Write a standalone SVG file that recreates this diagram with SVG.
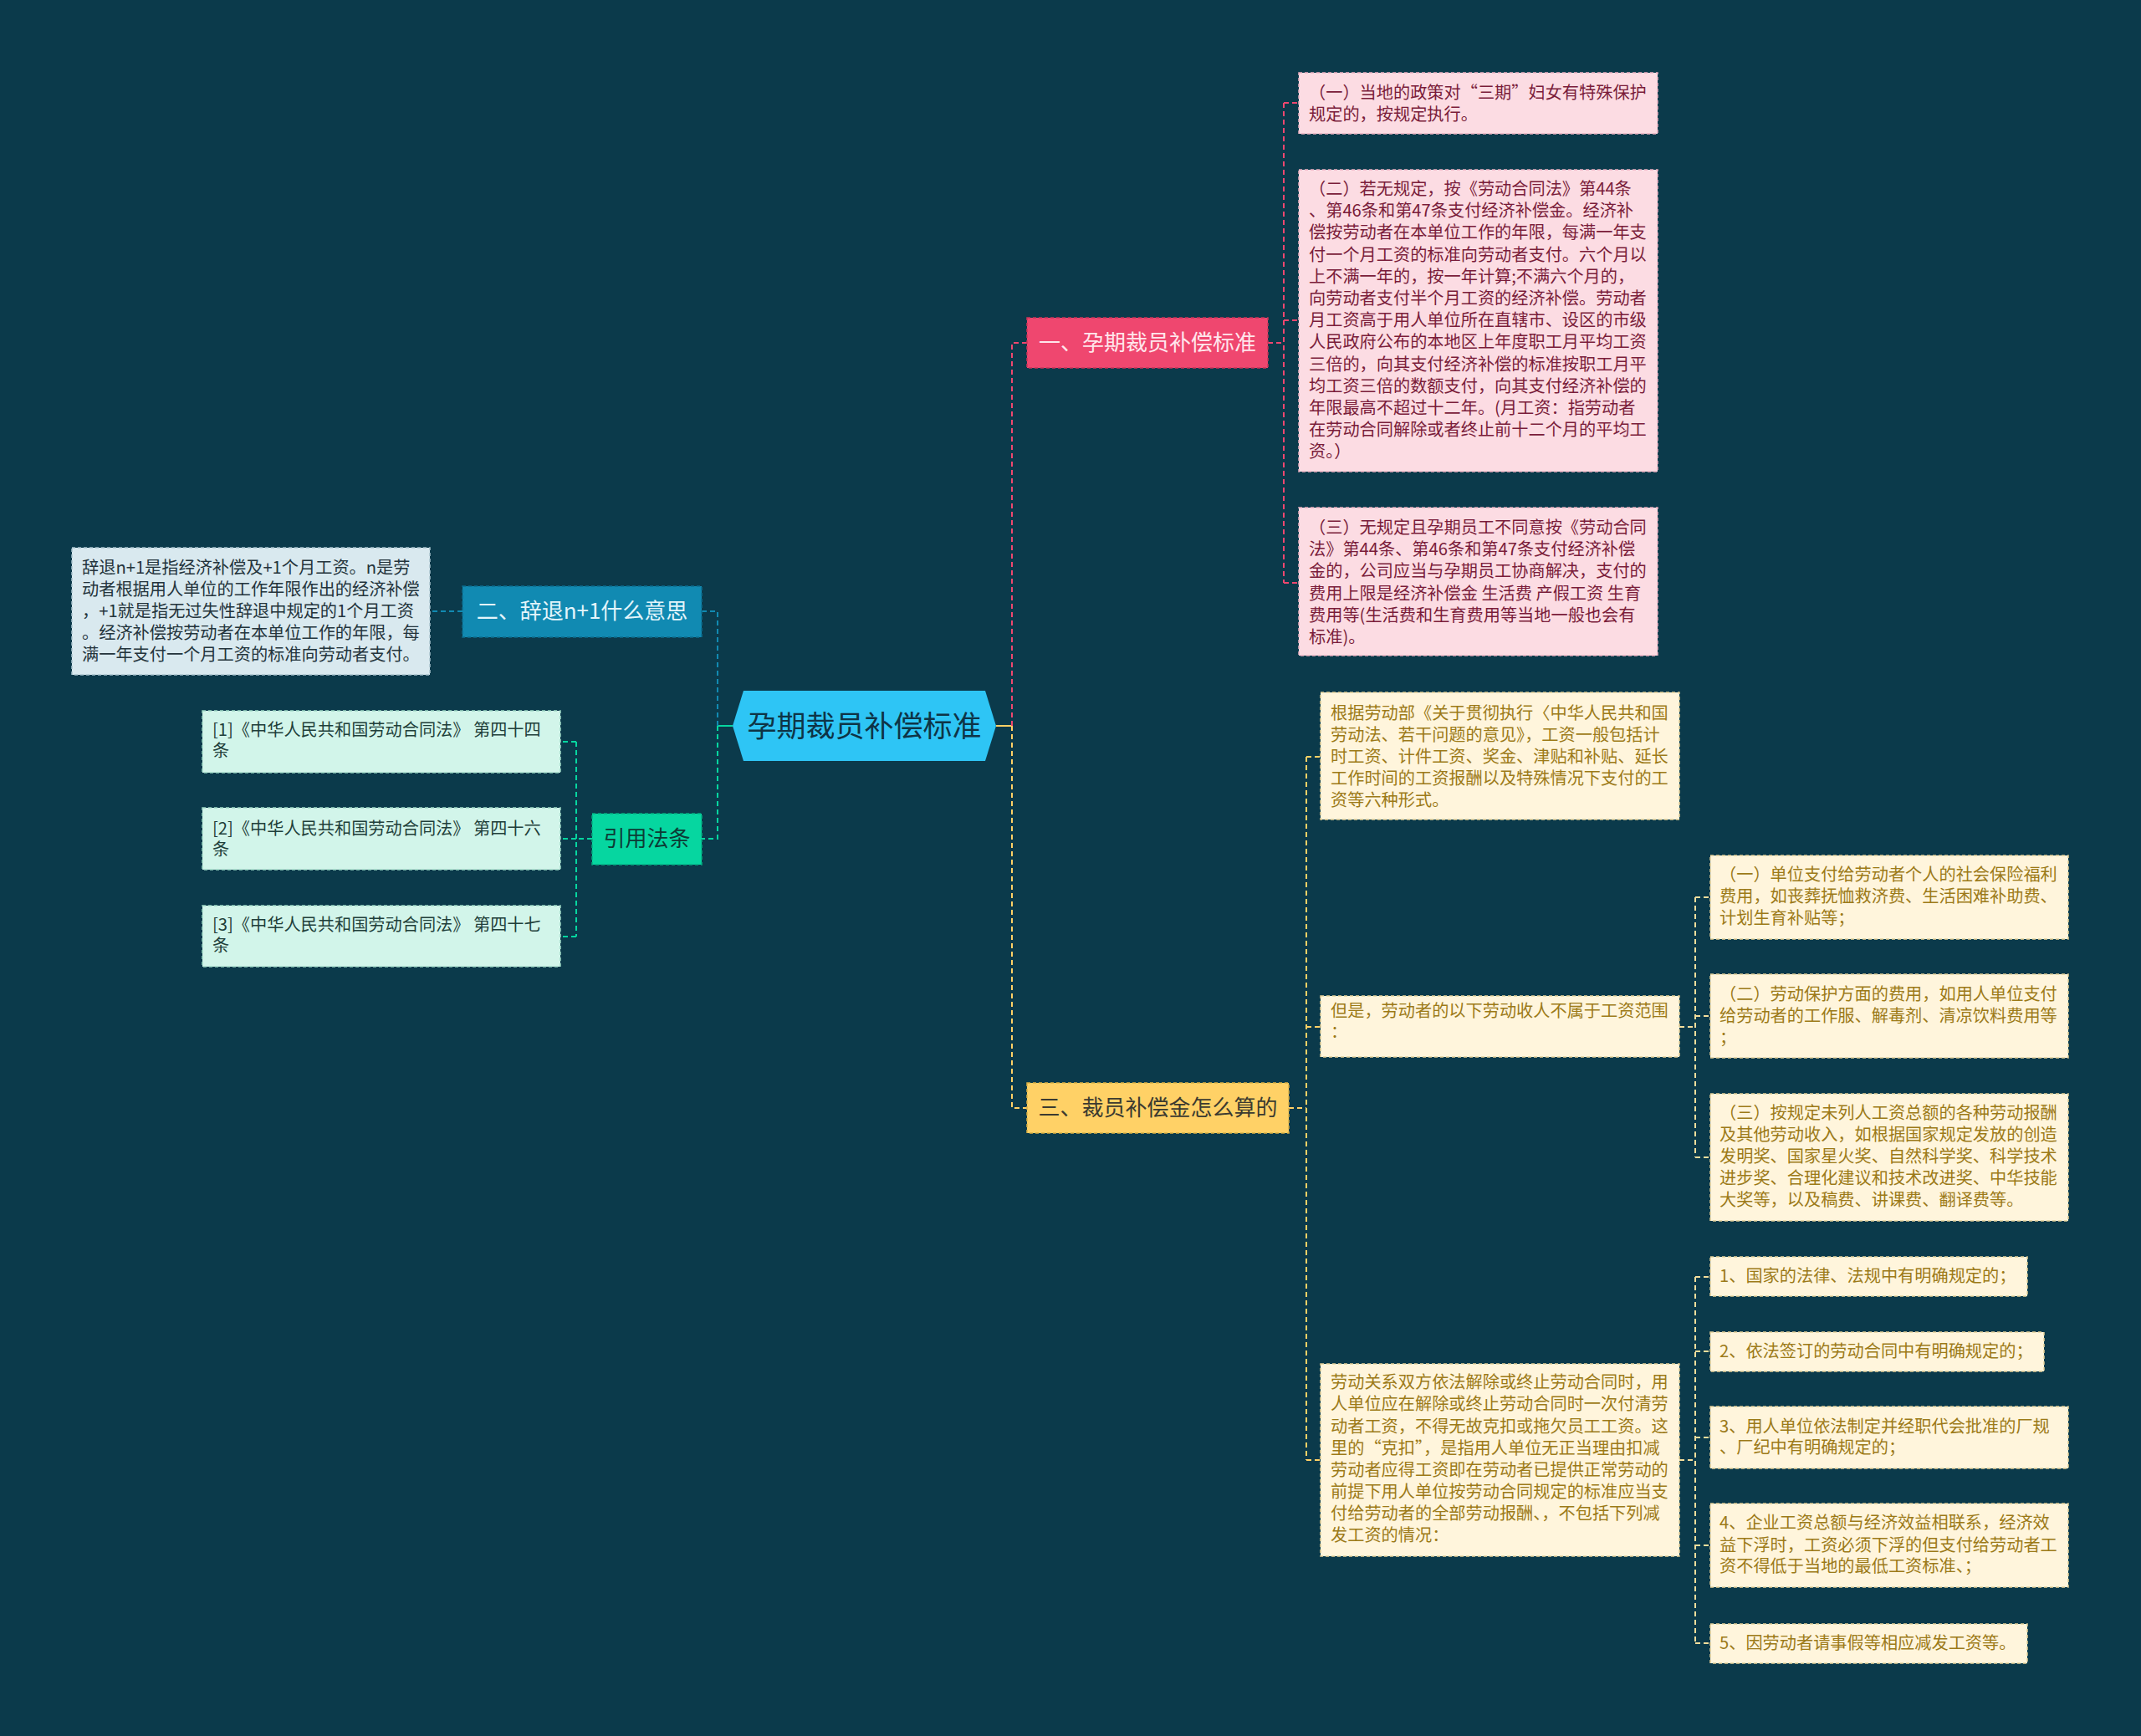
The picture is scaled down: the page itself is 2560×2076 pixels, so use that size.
<svg xmlns="http://www.w3.org/2000/svg" width="2560" height="2076" viewBox="0 0 2560 2076">
<style>
text{font-family:"Noto Sans CJK SC","Noto Sans",sans-serif;}
.t20{font-size:20.2px;}
.l1{font-size:26px;text-anchor:middle;}
.con{fill:none;stroke-width:2;stroke-dasharray:6 4;}
.box{stroke-width:1.5;stroke-dasharray:4 3;}
.pk{fill:#FCDCE3;stroke:#E9AFC0;}
.pkt{fill:#7A1C3A;}
.yl{fill:#FFF5DC;stroke:#E3CF98;}
.ylt{fill:#9C7A18;}
</style>
<rect x="0" y="0" width="2560" height="2076" fill="#0B3A4B"/>
<g id="connectors">
  <path d="M1191 868 H1210" stroke="#FFD166" stroke-width="2" fill="none"/>
  <path class="con" stroke="#EF476F" d="M1210 868 V410 H1228"/>
  <path class="con" stroke="#FFD166" d="M1210 868 V1325 H1228"/>
  <path d="M876 868 H858" stroke="#06D6A0" stroke-width="2" fill="none"/>
  <path class="con" stroke="#118AB2" d="M858 868 V731 H839"/>
  <path class="con" stroke="#06D6A0" d="M858 868 V1003 H839"/>
  <path class="con" stroke="#118AB2" d="M553 731 H514"/>
  <path class="con" stroke="#06D6A0" d="M708 1003 H689 M689 887 V1120 M689 887 H670 M689 1003 H670 M689 1120 H670"/>
  <path class="con" stroke="#EF476F" d="M1516 410 H1535 M1535 123 V697 M1535 123 H1553 M1535 383 H1553 M1535 697 H1553"/>
  <path class="con" stroke="#FFD166" d="M1541 1325 H1562 M1562 905 V1746 M1562 905 H1579 M1562 1228 H1579 M1562 1746 H1579"/>
  <path class="con" stroke="#F3DE9C" d="M2008 1228 H2027 M2027 1073 V1384 M2027 1073 H2045 M2027 1215 H2045 M2027 1384 H2045"/>
  <path class="con" stroke="#F3DE9C" d="M2008 1746 H2027 M2027 1527 V1965 M2027 1527 H2045 M2027 1616 H2045 M2027 1719 H2045 M2027 1848 H2045 M2027 1965 H2045"/>
</g>
<g id="root">
  <polygon points="876,868 889,826 1178,826 1191,868 1178,910 889,910" fill="#2EC5F5"/>
  <text x="1033.5" y="881" style="font-size:35px;text-anchor:middle" fill="#0E3446">孕期裁员补偿标准</text>
</g>
<g id="n1">
  <rect class="box" x="1228" y="380" width="288" height="60" fill="#EF476F" stroke="#C9355A"/>
  <text class="l1" x="1372" y="419" fill="#FFE6EC">一、孕期裁员补偿标准</text>
</g>
<g id="n2">
  <rect class="box" x="553" y="701" width="286" height="61" fill="#118AB2" stroke="#0C6E8E"/>
  <text class="l1" x="696" y="740" fill="#E3F5FB">二、辞退n+1什么意思</text>
</g>
<g id="n3">
  <rect class="box" x="708" y="973" width="131" height="61" fill="#06D6A0" stroke="#05AE82"/>
  <text class="l1" x="773.5" y="1012" fill="#0D3B35">引用法条</text>
</g>
<g id="n4">
  <rect class="box" x="1228" y="1295" width="313" height="60" fill="#FFD166" stroke="#D9AE45"/>
  <text class="l1" x="1384.5" y="1334" fill="#3B3A30">三、裁员补偿金怎么算的</text>
</g>
<g id="n1-1">
  <rect class="box pk" x="1553" y="87" width="429" height="73"/>
  <text class="t20 pkt"><tspan x="1565" y="118">（一）当地的政策对“三期”妇女有特殊保护</tspan><tspan x="1565" y="144">规定的，按规定执行。</tspan></text>
</g>
<g id="n1-2">
  <rect class="box pk" x="1553" y="203" width="429" height="361"/>
  <text class="t20 pkt"><tspan x="1565" y="233">（二）若无规定，按《劳动合同法》第44条</tspan><tspan x="1565" y="259">、第46条和第47条支付经济补偿金。经济补</tspan><tspan x="1565" y="285">偿按劳动者在本单位工作的年限，每满一年支</tspan><tspan x="1565" y="312">付一个月工资的标准向劳动者支付。六个月以</tspan><tspan x="1565" y="338">上不满一年的，按一年计算;不满六个月的，</tspan><tspan x="1565" y="364">向劳动者支付半个月工资的经济补偿。劳动者</tspan><tspan x="1565" y="390">月工资高于用人单位所在直辖市、设区的市级</tspan><tspan x="1565" y="416">人民政府公布的本地区上年度职工月平均工资</tspan><tspan x="1565" y="443">三倍的，向其支付经济补偿的标准按职工月平</tspan><tspan x="1565" y="469">均工资三倍的数额支付，向其支付经济补偿的</tspan><tspan x="1565" y="495">年限最高不超过十二年。(月工资：指劳动者</tspan><tspan x="1565" y="521">在劳动合同解除或者终止前十二个月的平均工</tspan><tspan x="1565" y="547">资。）</tspan></text>
</g>
<g id="n1-3">
  <rect class="box pk" x="1553" y="607" width="429" height="177"/>
  <text class="t20 pkt"><tspan x="1565" y="638">（三）无规定且孕期员工不同意按《劳动合同</tspan><tspan x="1565" y="664">法》第44条、第46条和第47条支付经济补偿</tspan><tspan x="1565" y="690">金的，公司应当与孕期员工协商解决，支付的</tspan><tspan x="1565" y="717">费用上限是经济补偿金 生活费 产假工资 生育</tspan><tspan x="1565" y="743">费用等(生活费和生育费用等当地一般也会有</tspan><tspan x="1565" y="769">标准)。</tspan></text>
</g>
<g id="n2-1">
  <rect class="box" x="86" y="655" width="428" height="152" fill="#D9E9EF" stroke="#A9C4CE"/>
  <text class="t20" fill="#24343C"><tspan x="98" y="686">辞退n+1是指经济补偿及+1个月工资。n是劳</tspan><tspan x="98" y="712">动者根据用人单位的工作年限作出的经济补偿</tspan><tspan x="98" y="738">，+1就是指无过失性辞退中规定的1个月工资</tspan><tspan x="98" y="764">。经济补偿按劳动者在本单位工作的年限，每</tspan><tspan x="98" y="790">满一年支付一个月工资的标准向劳动者支付。</tspan></text>
</g>
<g id="n3-1">
  <rect class="box" x="242" y="850" width="428" height="74" fill="#D2F5EA" stroke="#9FD9C6"/>
  <text class="t20" fill="#1F3F3A"><tspan x="254" y="880">[1]《中华人民共和国劳动合同法》 第四十四</tspan><tspan x="254" y="905">条</tspan></text>
</g>
<g id="n3-2">
  <rect class="box" x="242" y="966" width="428" height="74" fill="#D2F5EA" stroke="#9FD9C6"/>
  <text class="t20" fill="#1F3F3A"><tspan x="254" y="998">[2]《中华人民共和国劳动合同法》 第四十六</tspan><tspan x="254" y="1023">条</tspan></text>
</g>
<g id="n3-3">
  <rect class="box" x="242" y="1083" width="428" height="73" fill="#D2F5EA" stroke="#9FD9C6"/>
  <text class="t20" fill="#1F3F3A"><tspan x="254" y="1113">[3]《中华人民共和国劳动合同法》 第四十七</tspan><tspan x="254" y="1138">条</tspan></text>
</g>
<g id="n4-1">
  <rect class="box yl" x="1579" y="828" width="429" height="152"/>
  <text class="t20 ylt"><tspan x="1591" y="860">根据劳动部《关于贯彻执行〈中华人民共和国</tspan><tspan x="1591" y="886">劳动法、若干问题的意见》，工资一般包括计</tspan><tspan x="1591" y="912">时工资、计件工资、奖金、津贴和补贴、延长</tspan><tspan x="1591" y="938">工作时间的工资报酬以及特殊情况下支付的工</tspan><tspan x="1591" y="964">资等六种形式。</tspan></text>
</g>
<g id="n4-2">
  <rect class="box yl" x="1579" y="1191" width="429" height="73"/>
  <text class="t20 ylt"><tspan x="1591" y="1216">但是，劳动者的以下劳动收人不属于工资范围</tspan><tspan x="1591" y="1241">：</tspan></text>
</g>
<g id="n4-3">
  <rect class="box yl" x="1579" y="1631" width="429" height="230"/>
  <text class="t20 ylt"><tspan x="1591" y="1660">劳动关系双方依法解除或终止劳动合同时，用</tspan><tspan x="1591" y="1686">人单位应在解除或终止劳动合同时一次付清劳</tspan><tspan x="1591" y="1713">动者工资，不得无故克扣或拖欠员工工资。这</tspan><tspan x="1591" y="1739">里的“克扣”，是指用人单位无正当理由扣减</tspan><tspan x="1591" y="1765">劳动者应得工资即在劳动者已提供正常劳动的</tspan><tspan x="1591" y="1791">前提下用人单位按劳动合同规定的标准应当支</tspan><tspan x="1591" y="1817">付给劳动者的全部劳动报酬、，不包括下列减</tspan><tspan x="1591" y="1843">发工资的情况：</tspan></text>
</g>
<g id="n4-2-1">
  <rect class="box yl" x="2045" y="1023" width="428" height="100"/>
  <text class="t20 ylt"><tspan x="2056" y="1053">（一）单位支付给劳动者个人的社会保险福利</tspan><tspan x="2056" y="1079">费用，如丧葬抚恤救济费、生活困难补助费、</tspan><tspan x="2056" y="1105">计划生育补贴等；</tspan></text>
</g>
<g id="n4-2-2">
  <rect class="box yl" x="2045" y="1165" width="428" height="100"/>
  <text class="t20 ylt"><tspan x="2056" y="1196">（二）劳动保护方面的费用，如用人单位支付</tspan><tspan x="2056" y="1222">给劳动者的工作服、解毒剂、清凉饮料费用等</tspan><tspan x="2056" y="1248">；</tspan></text>
</g>
<g id="n4-2-3">
  <rect class="box yl" x="2045" y="1308" width="428" height="152"/>
  <text class="t20 ylt"><tspan x="2056" y="1338">（三）按规定未列人工资总额的各种劳动报酬</tspan><tspan x="2056" y="1364">及其他劳动收入，如根据国家规定发放的创造</tspan><tspan x="2056" y="1390">发明奖、国家星火奖、自然科学奖、科学技术</tspan><tspan x="2056" y="1416">进步奖、合理化建议和技术改进奖、中华技能</tspan><tspan x="2056" y="1442">大奖等，以及稿费、讲课费、翻译费等。</tspan></text>
</g>
<g id="n4-3-1">
  <rect class="box yl" x="2045" y="1503" width="379" height="47"/>
  <text class="t20 ylt" x="2056" y="1533">1、国家的法律、法规中有明确规定的；</text>
</g>
<g id="n4-3-2">
  <rect class="box yl" x="2045" y="1593" width="399" height="47"/>
  <text class="t20 ylt" x="2056" y="1623">2、依法签订的劳动合同中有明确规定的；</text>
</g>
<g id="n4-3-3">
  <rect class="box yl" x="2045" y="1682" width="428" height="74"/>
  <text class="t20 ylt"><tspan x="2056" y="1713">3、用人单位依法制定并经职代会批准的厂规</tspan><tspan x="2056" y="1738">、厂纪中有明确规定的；</tspan></text>
</g>
<g id="n4-3-4">
  <rect class="box yl" x="2045" y="1798" width="428" height="100"/>
  <text class="t20 ylt"><tspan x="2056" y="1828">4、企业工资总额与经济效益相联系，经济效</tspan><tspan x="2056" y="1855">益下浮时，工资必须下浮的但支付给劳动者工</tspan><tspan x="2056" y="1880">资不得低于当地的最低工资标准、；</tspan></text>
</g>
<g id="n4-3-5">
  <rect class="box yl" x="2045" y="1942" width="379" height="47"/>
  <text class="t20 ylt" x="2056" y="1972">5、因劳动者请事假等相应减发工资等。</text>
</g>
</svg>
